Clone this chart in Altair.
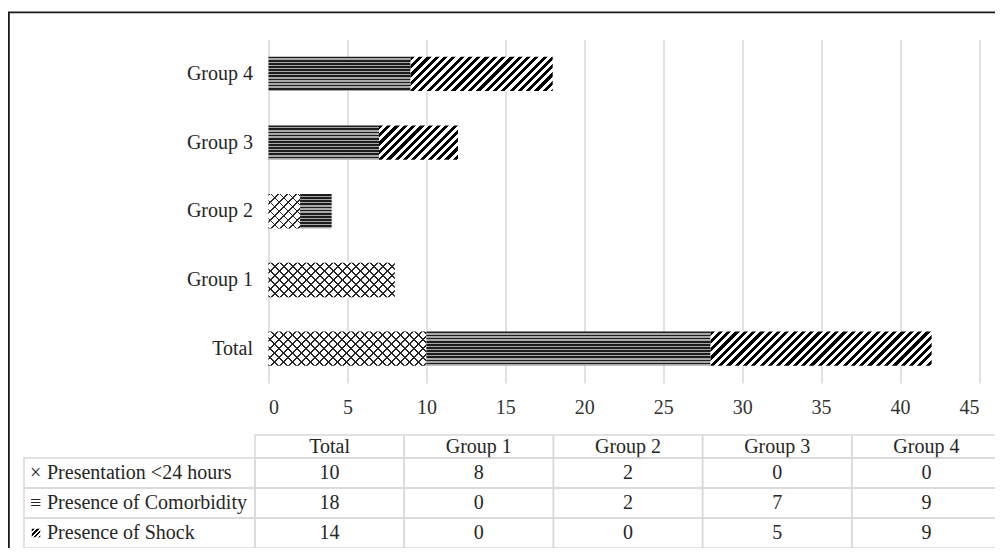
import altair as alt
import pandas as pd

# ---------------- data ----------------
groups = ["Total", "Group 1", "Group 2", "Group 3", "Group 4"]
series_names = ["Presentation <24 hours", "Presence of Comorbidity", "Presence of Shock"]
series_keys = ["×", "≡", ""]
presentation = [10, 8, 2, 0, 0]
comorbidity = [18, 0, 2, 7, 9]
shock = [14, 0, 0, 5, 9]
bar_order = ["Group 4", "Group 3", "Group 2", "Group 1", "Total"]
x_ticks = [0, 5, 10, 15, 20, 25, 30, 35, 40, 45]
series_values = [presentation, comorbidity, shock]

# ---------------- layout ----------------
PLOT_W = 710.5
PLOT_H = 343.5
X0, Y0 = 268.5, 39.5          # page position of the plot origin
SVG_W, SVG_H = 987, 540       # keep the page inside the 1003x556 window
XMAX = 45
FONT = "Liberation Serif"
GRID = "#d9d9d9"
TEXT = "#262626"
STEP = PLOT_H / 5
BAR_H = STEP * 0.5
PX_PER_UNIT = PLOT_W / XMAX


def rx(px):
    return px - X0


def ry(py):
    return py - Y0


# ---------------- pattern fills (gradients) ----------------
def stripe_stops(n, frac, dark, light):
    stops = []
    i = 0
    while i < n:
        for off, col in ((i / n, dark), ((i + frac) / n, dark),
                         ((i + frac) / n, light), ((i + 1) / n, light)):
            stops.append(alt.GradientStop(color=col, offset=round(min(off, 1.0), 5)))
        i += 1
    return stops


def diag(direction, w, h, period, frac, dark, light):
    k = (w + h) * w / (w * w + h * h)
    if direction == "/":
        x1, y1, x2, y2 = 0, 0, k, k * h / w
    else:
        x1, y1, x2, y2 = 0, 1, k, 1 - k * h / w
    n = (w + h) / period
    return alt.LinearGradient(gradient="linear", stops=stripe_stops(n, frac, dark, light),
                              x1=x1, y1=y1, x2=x2, y2=y2)


def horiz(count, frac, dark, light):
    return alt.LinearGradient(gradient="linear", stops=stripe_stops(count, frac, dark, light),
                              x1=0, y1=0, x2=0, y2=1)


def fills_for(si, value):
    w = value * PX_PER_UNIT
    h = BAR_H
    if si == 0:
        return [diag("/", w, h, 9.0, 0.21, "#262626", "#ffffff"),
                diag("\\", w, h, 9.0, 0.21, "#262626", "rgba(255,255,255,0)")]
    if si == 1:
        return [horiz(11, 0.55, "#1c1c1c", "#a8a8a8")]
    return [diag("/", w, h, 8.3, 0.5, "#000000", "#ffffff")]


# ---------------- bars ----------------
records = []
for si, (name, vals) in enumerate(zip(series_names, series_values)):
    for g, v in zip(groups, vals):
        records.append({"group": g, "series": name, "order": si, "value": v})
bars_df = pd.DataFrame(records)

x_enc = alt.X("v0:Q",
              scale=alt.Scale(domain=[0, XMAX], nice=False, zero=True),
              axis=alt.Axis(values=x_ticks, grid=True, gridColor=GRID, gridWidth=1.5,
                            domain=False, ticks=False, labelFont=FONT, labelFontSize=20,
                            labelColor="#333333", labelPadding=14, title=None))
y_enc = alt.Y("group:N",
              scale=alt.Scale(type="band", domain=bar_order, paddingInner=0.5, paddingOuter=0.25),
              axis=alt.Axis(domain=False, ticks=False, grid=False, labelFont=FONT,
                            labelFontSize=20, labelColor=TEXT, labelPadding=16, title=None))

base = alt.Chart(bars_df).transform_stack(
    stack="value", groupby=["group"], as_=["v0", "v1"],
    sort=[alt.SortField(field="order", order="ascending")])

bar_layers = []
for si, (name, vals) in enumerate(zip(series_names, series_values)):
    for g, v in zip(groups, vals):
        if v <= 0:
            continue
        for fill in fills_for(si, v):
            bar_layers.append(
                base.transform_filter((alt.datum.series == name) & (alt.datum.group == g))
                .mark_bar(color=fill)
                .encode(x=x_enc, x2=alt.X2("v1"), y=y_enc)
            )
bars = alt.layer(*bar_layers)

# ---------------- table ----------------
hdr_df = pd.DataFrame({"col": groups, "row": ["hdr"] * len(groups), "text": groups})
body_rows = []
for name, vals in zip(series_names, series_values):
    for g, v in zip(groups, vals):
        body_rows.append({"col": g, "row": name, "text": str(v)})
body_df = pd.DataFrame(body_rows)
lbl_df = pd.DataFrame({"col": ["lbl"] * 3, "row": series_names, "key": series_keys,
                       "text": series_names})

col_scale = alt.Scale(type="band", domain=groups, range=[rx(255), rx(1001)],
                      paddingInner=0, paddingOuter=0)
lbl_scale = alt.Scale(type="band", domain=["lbl"], range=[rx(24), rx(255)],
                      paddingInner=0, paddingOuter=0)
hdr_row_scale = alt.Scale(type="band", domain=["hdr"], range=[ry(435), ry(458)],
                          paddingInner=0, paddingOuter=0)
body_row_scale = alt.Scale(type="band", domain=series_names, range=[ry(458), ry(548)],
                           paddingInner=0, paddingOuter=0)

cell = dict(fillOpacity=0, stroke=GRID, strokeWidth=1.5)
txt = dict(font=FONT, fontSize=20, color=TEXT, baseline="middle")


def cells_and_text(df, xscale, yscale):
    c = alt.Chart(df)
    return alt.layer(
        c.mark_rect(**cell).encode(x=alt.X("col:N", scale=xscale, axis=None),
                                   y=alt.Y("row:N", scale=yscale, axis=None)),
        c.mark_text(align="center", **txt).encode(
            x=alt.X("col:N", scale=xscale, axis=None, bandPosition=0.5),
            y=alt.Y("row:N", scale=yscale, axis=None, bandPosition=0.5),
            text="text:N"),
    )


hdr = cells_and_text(hdr_df, col_scale, hdr_row_scale)
body = cells_and_text(body_df, col_scale, body_row_scale)

c = alt.Chart(lbl_df)
xl = alt.X("col:N", scale=lbl_scale, axis=None, bandPosition=0)
yl = alt.Y("row:N", scale=body_row_scale, axis=None, bandPosition=0.5)
key_grad = alt.LinearGradient(gradient="linear",
                              stops=stripe_stops(3.4, 0.5, "#000000", "#ffffff"),
                              x1=0, y1=0, x2=1, y2=1)
lbl = alt.layer(
    c.mark_rect(**cell).encode(x=alt.X("col:N", scale=lbl_scale, axis=None),
                               y=alt.Y("row:N", scale=body_row_scale, axis=None)),
    c.mark_text(align="left", dx=6, **txt).encode(x=xl, y=yl, text="key:N"),
    c.transform_filter(alt.datum.row == series_names[2]).mark_point(
        shape="square", filled=True, size=72, fill=key_grad, opacity=1,
        xOffset=12).encode(x=xl, y=yl),
    c.mark_text(align="left", dx=23, **txt).encode(x=xl, y=yl, text="text:N"),
)

# ---------------- outer frame ----------------
one = pd.DataFrame({"a": [0]})
frame = alt.layer(
    alt.Chart(one).mark_rule(color="#1a1a1a", strokeWidth=1.8).encode(
        x=alt.value(rx(8.9)), y=alt.value(ry(12)), y2=alt.value(ry(560))),
    alt.Chart(one).mark_rule(color="#1a1a1a", strokeWidth=1.8).encode(
        x=alt.value(rx(8)), x2=alt.value(rx(1010)), y=alt.value(ry(12.4))),
)

chart = (
    alt.layer(bars, hdr, body, lbl, frame)
    .resolve_scale(x="independent", y="independent")
    .properties(width=PLOT_W, height=PLOT_H,
                autosize=alt.AutoSizeParams(type="none"),
                padding={"left": X0 - 8, "top": Y0 - 8,
                         "right": SVG_W - (X0 - 8) - PLOT_W,
                         "bottom": SVG_H - (Y0 - 8) - PLOT_H})
    .configure_view(stroke=None)
)

chart.save("out.html", embed_options={"renderer": "svg", "actions": False})
